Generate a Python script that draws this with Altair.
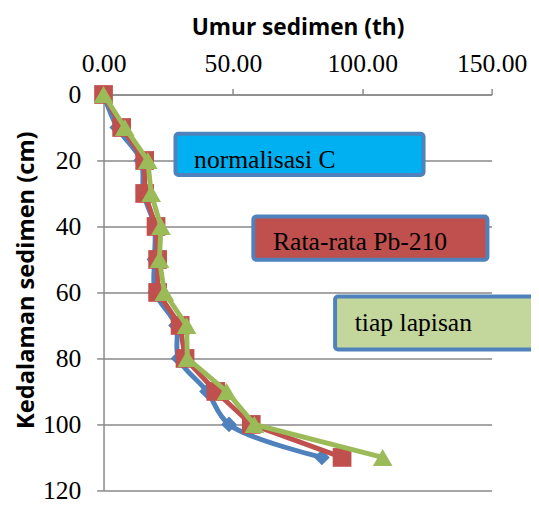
import altair as alt
import pandas as pd

# ---- data ----
depth = [0, 10, 20, 30, 40, 50, 60, 70, 80, 90, 100, 110]
age_norm_c = [0, 5.3, 14.5, 15.5, 19.7, 19.7, 20.0, 28.0, 29.0, 40.0, 48.5, 84.4]
age_pb210 = [0, 7.0, 15.9, 15.9, 20.3, 20.9, 20.9, 29.6, 31.5, 43.4, 57.1, 92.2]
age_layer = [0, 8.2, 17.1, 18.4, 22.2, 21.6, 23.5, 32.1, 32.4, 47.6, 58.3, 107.9]

series_names = ["normalisasi C", "Rata-rata Pb-210", "tiap lapisan"]
series_colors = ["#4F81BD", "#C0504D", "#9BBB59"]
series_shapes = ["diamond", "square", "triangle-up"]
series_sizes = [256, 361, 400]
series_interp = ["catmull-rom", "linear", "linear"]

x_ticks = [0, 50, 100, 150]
y_ticks = [0, 20, 40, 60, 80, 100, 120]

# annotation boxes (in data units)
box_fill = ["#00B0F0", "#C0504D", "#C3D69B"]
box_x = [27.8, 57.9, 89.5]
box_x2 = [123.7, 148.4, 200.0]
box_y = [11.9, 37.0, 61.2]
box_y2 = [24.4, 50.1, 77.3]
text_x = [35.0, 65.5, 97.1]
text_y = [22.4, 47.2, 71.6]

rows = []
for name, vals in zip(series_names, [age_norm_c, age_pb210, age_layer]):
    for d, v in zip(depth, vals):
        rows.append({"series": name, "depth": d, "age": v})
df = pd.DataFrame(rows)

boxes = pd.DataFrame({
    "label": series_names, "fill": box_fill,
    "bx": box_x, "bx2": box_x2, "by": box_y, "by2": box_y2,
    "tx": text_x, "ty": text_y,
})

GRID = "#898989"
xscale = alt.Scale(domain=[0, 150], nice=False, zero=False)
yscale = alt.Scale(domain=[0, 120], reverse=True, nice=False)

xaxis = alt.Axis(
    orient="top", values=x_ticks, format=".2f", title="Umur sedimen (th)",
    grid=False, domainColor=GRID, domainWidth=1.5, tickColor=GRID, tickWidth=1.5,
    tickSize=6, labelFont="Liberation Serif", labelFontSize=26, labelColor="black",
    labelBaseline="alphabetic", labelPadding=17, labelFlush=False, labelOverlap=False,
    titleFont="Open Sans", titleFontSize=23, titleFontWeight="bold", titleColor="black",
    titleBaseline="alphabetic", titleY=-61, titleX=197,
)
yaxis = alt.Axis(
    values=y_ticks, title="Kedalaman sedimen (cm)", grid=True, gridColor=GRID,
    gridWidth=1.5, domainColor=GRID, domainWidth=1.5, tickColor=GRID, tickWidth=1.5,
    tickSize=7, labelFont="Liberation Serif", labelFontSize=26, labelColor="black",
    labelPadding=16, labelFlush=False, labelOverlap=False,
    titleFont="Open Sans", titleFontSize=24, titleFontWeight="bold", titleColor="black",
    titleAngle=-90, titleX=-78, titleY=188, titleAlign="center", titleBaseline="middle",
)

layers = []
for i, name in enumerate(series_names):
    base = alt.Chart(df).transform_filter(alt.datum.series == name)
    line = base.mark_line(
        color=series_colors[i], strokeWidth=5, interpolate=series_interp[i]
    ).encode(
        x=alt.X("age:Q", scale=xscale, axis=xaxis),
        y=alt.Y("depth:Q", scale=yscale, axis=yaxis),
        order=alt.Order("depth:Q"),
    )
    pts = base.mark_point(
        shape=series_shapes[i], filled=True, size=series_sizes[i],
        color=series_colors[i], opacity=1,
    ).encode(
        x=alt.X("age:Q", scale=xscale, axis=xaxis),
        y=alt.Y("depth:Q", scale=yscale, axis=yaxis),
    )
    layers += [line, pts]

rects = alt.Chart(boxes).mark_rect(
    stroke="#4F81BD", strokeWidth=4, cornerRadius=3
).encode(
    x=alt.X("bx:Q", scale=xscale, axis=xaxis), x2="bx2:Q",
    y=alt.Y("by:Q", scale=yscale, axis=yaxis), y2="by2:Q",
    fill=alt.Fill("fill:N", scale=None),
)
texts = alt.Chart(boxes).mark_text(
    align="left", baseline="alphabetic", font="Liberation Serif",
    fontSize=26, color="black",
).encode(
    x=alt.X("tx:Q", scale=xscale, axis=xaxis),
    y=alt.Y("ty:Q", scale=yscale, axis=yaxis),
    text="label:N",
)

chart = alt.layer(*layers, rects, texts).properties(
    width=394, height=402,
    autosize=alt.AutoSizeParams(type="none"),
    padding={"left": 97, "top": 84, "right": 40, "bottom": 12},
).configure_view(stroke=None)

chart.save("out.html", embed_options={"renderer": "svg", "actions": False})
